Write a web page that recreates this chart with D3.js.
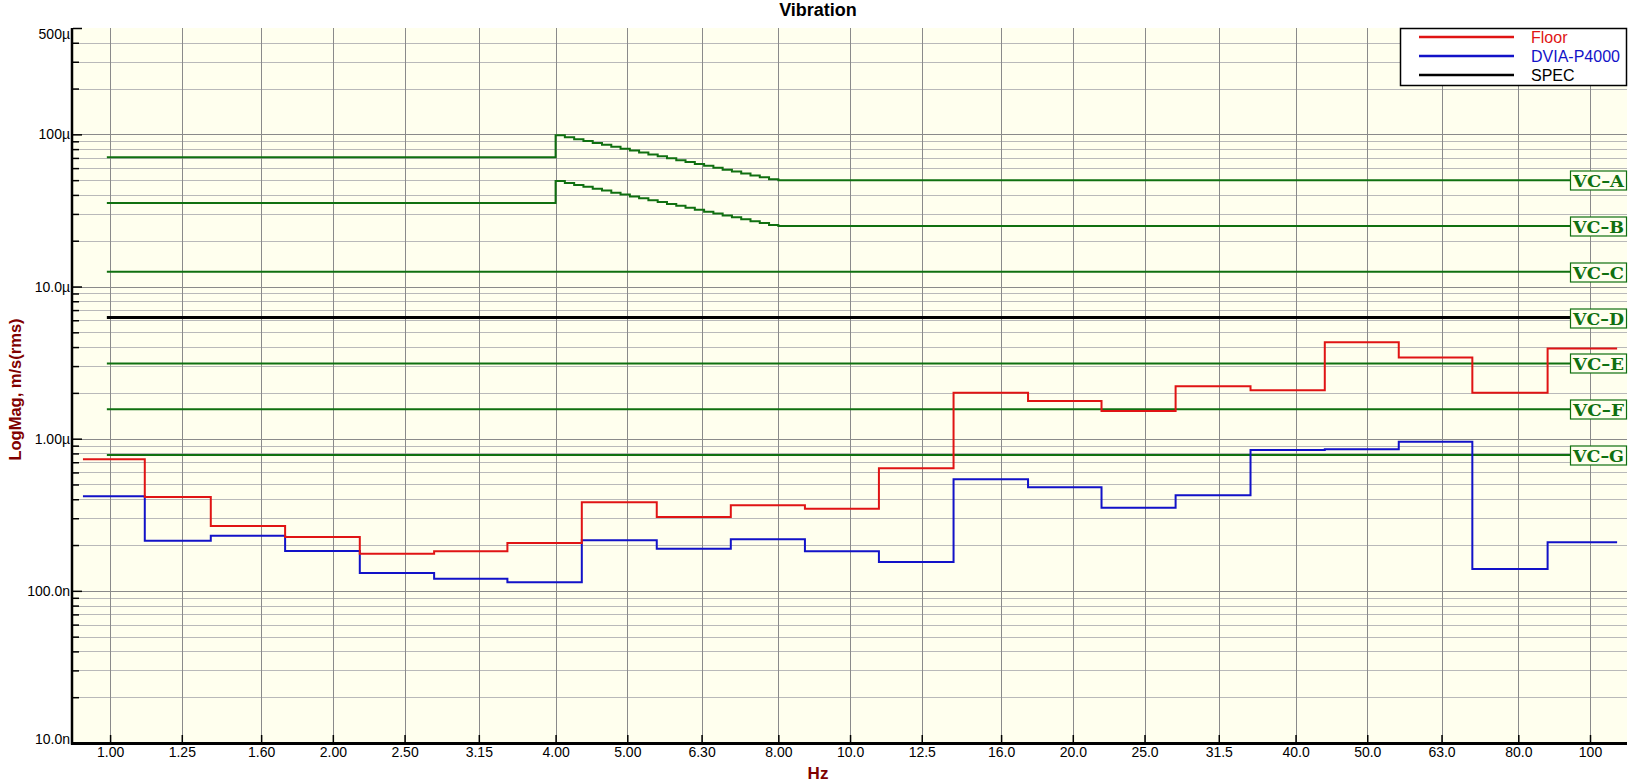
<!DOCTYPE html>
<html>
<head>
<meta charset="utf-8">
<script src="https://cdn.jsdelivr.net/npm/d3@7"></script>
<style>
  body { margin: 0; background: #fff; }
  svg { display: block; font-family: "Liberation Sans", Arial, sans-serif; }
</style>
</head>
<body>
<svg id="chart" width="1636" height="782"></svg>
<script>
// 1/3-octave bands (Hz)
const bandCenters = [1, 1.25, 1.6, 2, 2.5, 3.15, 4, 5, 6.3, 8, 10, 12.5, 16, 20, 25, 31.5, 40, 50, 63, 80, 100];
const bandLabels = ["1.00", "1.25", "1.60", "2.00", "2.50", "3.15", "4.00", "5.00", "6.30", "8.00", "10.0",
  "12.5", "16.0", "20.0", "25.0", "31.5", "40.0", "50.0", "63.0", "80.0", "100"];
// where each band step starts / ends (Hz)
const bandEdges = [0.919, 1.114, 1.368, 1.724, 2.175, 2.741, 3.443, 4.34, 5.48, 6.90, 8.69, 10.94,
  13.80, 17.40, 21.87, 27.54, 34.77, 43.81, 55.15, 69.34, 87.64, 108.8];

// velocity, µm/s rms
const floorVals = [0.733, 0.414, 0.267, 0.226, 0.175, 0.182, 0.206, 0.382, 0.306, 0.365, 0.346, 0.640,
  2.00, 1.77, 1.52, 2.21, 2.08, 4.31, 3.41, 2.00, 3.92];
const dviaVals = [0.419, 0.213, 0.230, 0.183, 0.131, 0.120, 0.114, 0.215, 0.189, 0.218, 0.182, 0.155,
  0.542, 0.480, 0.351, 0.425, 0.844, 0.853, 0.953, 0.139, 0.209];

// VC-A / VC-B criteria: flat below 4 Hz, staircase 4-8 Hz, flat above
const vcStartFreq = 0.99;
const vcStepFreq = [4.000, 4.117, 4.238, 4.362, 4.490, 4.621, 4.757, 4.896, 5.040, 5.187, 5.339, 5.496,
  5.657, 5.823, 5.993, 6.169, 6.350, 6.536, 6.727, 6.924, 7.127, 7.336, 7.551, 7.772, 8.000];
const vcALow = 70.7;
const vcAStep = [98.6, 95.8, 93.0, 90.4, 87.8, 85.3, 82.9, 80.5, 78.2, 76.0, 73.8, 71.7, 69.7, 67.7,
  65.8, 63.9, 62.1, 60.3, 58.6, 56.9, 55.3, 53.7, 52.2, 50.7, 50.0];
const vcBLow = 35.4;
const vcBStep = [49.3, 47.9, 46.5, 45.2, 43.9, 42.7, 41.4, 40.3, 39.1, 38.0, 36.9, 35.9, 34.9, 33.9,
  32.9, 32.0, 31.0, 30.2, 29.3, 28.5, 27.7, 26.9, 26.1, 25.4, 25.0];
const vcNames = ["VC\u2013A", "VC\u2013B", "VC\u2013C", "VC\u2013D", "VC\u2013E", "VC\u2013F", "VC\u2013G"];
const vcFlat = [50, 25, 12.5, 6.25, 3.125, 1.5625, 0.78];
const specLevel = 6.25;

// y axis ticks (µm/s)
const yMajor = [0.01, 0.1, 1, 10, 100, 500];
const yLabels = ["10.0n", "100.0n", "1.00\u00b5", "10.0\u00b5", "100\u00b5", "500\u00b5"];

const legendNames = ["Floor", "DVIA-P4000", "SPEC"];
const legendColors = ["#e01414", "#1212c8", "#000000"];
const vcColor = "#107010";

const W = 1636, H = 782;
const m = { left: 73, right: 9, top: 28, bottom: 39 };

const svg = d3.select("#chart");

const x = d3.scaleLog().domain([0.891, 112.2]).range([m.left, W - m.right]);
const y = d3.scaleLog().domain([0.01, 500]).range([H - m.bottom, m.top]);
const [x0, x1] = x.range();
const [yB, yT] = y.range();

const yMinor = [];
[0.01, 0.1, 1, 10].forEach(dec => d3.range(2, 10).forEach(k => yMinor.push(dec * k)));
yMinor.push(200, 300, 400);

const px = v => Math.round(v) + 0.5;

// plot background
svg.append("rect")
  .attr("x", x0).attr("y", yT)
  .attr("width", x1 - x0).attr("height", yB - yT)
  .attr("fill", "#ffffee");

// grid
const grid = svg.append("g").attr("shape-rendering", "crispEdges");
grid.selectAll(".hmin").data(yMinor).join("line")
  .attr("x1", x0).attr("x2", x1)
  .attr("y1", d => px(y(d))).attr("y2", d => px(y(d)))
  .attr("stroke", "#b9b9b9");
grid.selectAll(".hmaj").data(yMajor.slice(1, 5)).join("line")
  .attr("x1", x0).attr("x2", x1)
  .attr("y1", d => px(y(d))).attr("y2", d => px(y(d)))
  .attr("stroke", "#8a8a8a");
grid.selectAll(".vmaj").data(bandCenters).join("line")
  .attr("x1", d => px(x(d))).attr("x2", d => px(x(d)))
  .attr("y1", yT).attr("y2", yB)
  .attr("stroke", "#8a8a8a");

const stepLine = d3.line()
  .x(d => x(d[0]))
  .y(d => y(d[1]))
  .curve(d3.curveStepAfter);

// VC criteria lines
const vcA = [[vcStartFreq, vcALow]].concat(vcStepFreq.map((f, i) => [f, vcAStep[i]]), [[x.domain()[1], vcFlat[0]]]);
const vcB = [[vcStartFreq, vcBLow]].concat(vcStepFreq.map((f, i) => [f, vcBStep[i]]), [[x.domain()[1], vcFlat[1]]]);
const vcLines = [vcA, vcB].concat(vcFlat.slice(2).filter(v => v !== specLevel)
  .map(v => [[vcStartFreq, v], [x.domain()[1], v]]));

svg.append("g").selectAll("path").data(vcLines).join("path")
  .attr("d", stepLine)
  .attr("fill", "none")
  .attr("stroke", vcColor)
  .attr("stroke-width", 2);

// measured bands
function bandPoints(vals) {
  const pts = vals.map((v, i) => [bandEdges[i], v]);
  pts.push([bandEdges[vals.length], vals[vals.length - 1]]);
  return pts;
}
svg.append("g").selectAll("path").data([dviaVals, floorVals]).join("path")
  .attr("d", d => stepLine(bandPoints(d)))
  .attr("fill", "none")
  .attr("stroke", (d, i) => i === 0 ? legendColors[1] : legendColors[0])
  .attr("stroke-width", 2);

// spec line
svg.append("path")
  .attr("d", stepLine([[vcStartFreq, specLevel], [x.domain()[1], specLevel]]))
  .attr("fill", "none")
  .attr("stroke", "#000")
  .attr("stroke-width", 3);

// VC tags
const tagW = 57, tagH = 19;
const tags = svg.append("g").selectAll("g").data(vcFlat).join("g")
  .attr("transform", d => `translate(${x1 - tagW},${Math.round(y(d)) - tagH / 2})`);
tags.append("rect")
  .attr("x", 0.5).attr("y", 0.5)
  .attr("width", tagW - 1).attr("height", tagH)
  .attr("fill", "#ffffee")
  .attr("stroke", vcColor)
  .attr("stroke-width", 1.2);
tags.append("text")
  .attr("x", 3).attr("y", tagH / 2 + 6.5)
  .attr("textLength", 51).attr("lengthAdjust", "spacingAndGlyphs")
  .attr("font-family", "'DejaVu Serif', 'Liberation Serif', serif")
  .attr("font-size", 16).attr("font-weight", "bold")
  .attr("fill", vcColor)
  .text((d, i) => vcNames[i]);

// axes
const xAxis = d3.axisBottom(x)
  .tickValues(bandCenters)
  .tickFormat((d, i) => bandLabels[i])
  .tickSizeInner(-8).tickSizeOuter(0).tickPadding(4);
const gx = svg.append("g").attr("transform", `translate(0,${yB})`).call(xAxis);
gx.select(".domain").remove();
gx.selectAll(".tick line").attr("stroke", "#000").attr("stroke-width", 1.5);
gx.selectAll(".tick text").attr("font-size", 14).attr("fill", "#000")
  .attr("font-family", "'Liberation Sans', Arial, sans-serif");

const yAxisMinor = d3.axisLeft(y).tickValues(yMinor).tickFormat("").tickSizeInner(-6).tickSizeOuter(0);
const gym = svg.append("g").attr("transform", `translate(${x0},0)`).call(yAxisMinor);
gym.select(".domain").remove();
gym.selectAll(".tick line").attr("stroke", "#000").attr("stroke-width", 1.5);

const yAxis = d3.axisLeft(y)
  .tickValues(yMajor)
  .tickFormat((d, i) => yLabels[i])
  .tickSizeInner(-9).tickSizeOuter(0).tickPadding(3);
const gy = svg.append("g").attr("transform", `translate(${x0},0)`).call(yAxis);
gy.select(".domain").remove();
gy.selectAll(".tick line").attr("stroke", "#000").attr("stroke-width", 1.5);
gy.selectAll(".tick text").attr("font-size", 14).attr("fill", "#000")
  .attr("font-family", "'Liberation Sans', Arial, sans-serif")
  .attr("dy", (d, i) => i === yMajor.length - 1 ? "0.75em" : i === 0 ? "0em" : "0.32em");

svg.append("line")
  .attr("x1", x0 - 1).attr("x2", x0 - 1).attr("y1", yT).attr("y2", yB + 1.5)
  .attr("stroke", "#000").attr("stroke-width", 2.5);
svg.append("line")
  .attr("x1", x0 - 2).attr("x2", x1).attr("y1", yB + 0.5).attr("y2", yB + 0.5)
  .attr("stroke", "#000").attr("stroke-width", 3);

// titles
svg.append("text")
  .attr("x", W / 2).attr("y", 16)
  .attr("text-anchor", "middle")
  .attr("font-size", 18).attr("font-weight", "bold")
  .text("Vibration");
svg.append("text")
  .attr("x", W / 2).attr("y", 779)
  .attr("text-anchor", "middle")
  .attr("font-size", 17).attr("font-weight", "bold")
  .attr("fill", "#800000")
  .text("Hz");
svg.append("text")
  .attr("transform", `translate(21,${(yT + yB) / 2 + 4}) rotate(-90)`)
  .attr("text-anchor", "middle")
  .attr("font-size", 16.5).attr("font-weight", "bold")
  .attr("fill", "#800000")
  .text("LogMag, m/s(rms)");

// legend
const lg = svg.append("g").attr("transform", "translate(1400,28)");
lg.append("rect")
  .attr("x", 0.5).attr("y", 0.5).attr("width", 226).attr("height", 57)
  .attr("fill", "#fff").attr("stroke", "#000").attr("stroke-width", 1.5);
const items = lg.selectAll(".item").data(legendNames).join("g")
  .attr("transform", (d, i) => `translate(0,${9 + i * 19})`);
items.append("line")
  .attr("x1", 19).attr("x2", 114).attr("y1", 0).attr("y2", 0)
  .attr("stroke", (d, i) => legendColors[i]).attr("stroke-width", 2.5);
items.append("text")
  .attr("x", 131).attr("y", 6)
  .attr("font-size", 16)
  .attr("fill", (d, i) => legendColors[i])
  .text(d => d);
</script>
</body>
</html>
